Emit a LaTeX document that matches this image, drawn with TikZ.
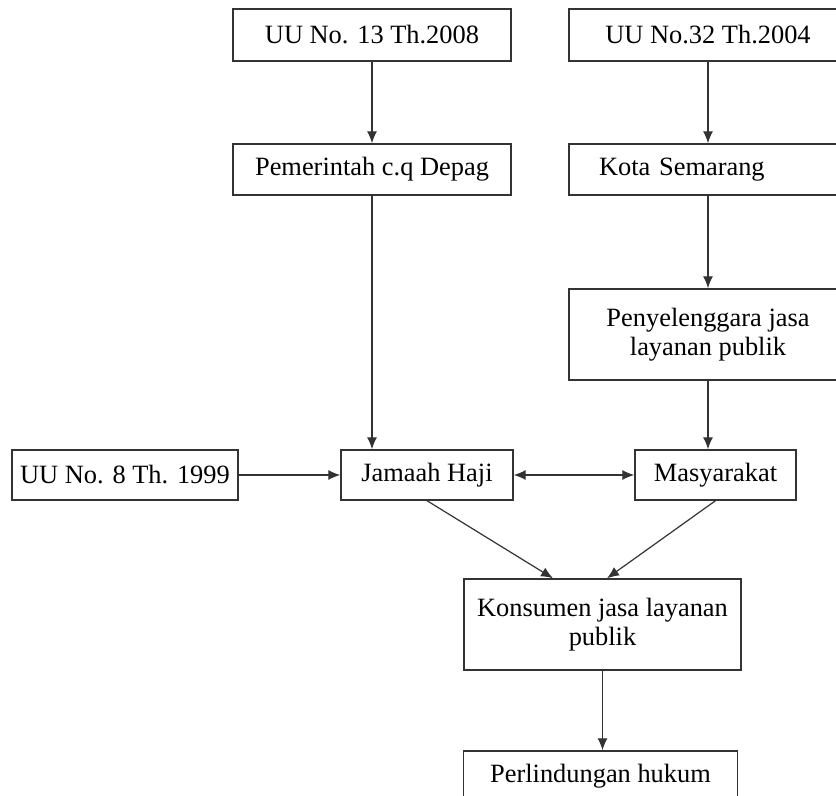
\documentclass[tikz,border=0pt]{standalone}
\usepackage{fontspec}
\setmainfont{Liberation Serif}
\usetikzlibrary{arrows.meta}
\begin{document}
\begin{tikzpicture}[x=0.5pt,y=-0.5pt,
	kotak/.style={draw=black!80,line width=0.7pt,fill=white,inner sep=2pt,align=center,
		font=\fontsize{13.2}{14.8}\selectfont},
	panah/.style={draw=black!80,line width=0.6pt,-{Latex[length=6pt,width=5pt]}},
	panahdua/.style={draw=black!80,line width=0.6pt,{Latex[length=6pt,width=5pt]}-{Latex[length=6pt,width=5pt]}}]
	      \clip (0,0) rectangle (836,796);
	      % Kotak atas
	      \node[kotak,minimum width=139pt,minimum height=26pt] (uuA) at (372,35) {UU No. 13 Th.2008};
	      \node[kotak,minimum width=139pt,minimum height=26pt] (uuB) at (708,35) {UU No.32 Th.2004};
	      \node[kotak,minimum width=139pt,minimum height=25.5pt] (pemerintah) at (372,169.5) {Pemerintah c.q Depag};
	      \node[kotak,minimum height=25.5pt,text width=109pt,inner xsep=15pt,align=left] (kota) at (708,169.5) {Kota Semarang};
	      \node[kotak,minimum width=139pt,minimum height=45.5pt] (penyelenggara) at (708,334.5) {Penyelenggara jasa\\layanan publik};
	      % Baris tengah
	      \node[kotak,minimum width=113pt,minimum height=25pt] (uuC) at (125,475) {UU No. 8 Th. 1999};
	      \node[kotak,minimum width=86pt,minimum height=25pt] (jamaah) at (427,475) {Jamaah Haji};
	      \node[kotak,minimum width=80.5pt,minimum height=25pt] (masyarakat) at (715.5,475) {Masyarakat};
	      % Kotak bawah
	      \node[kotak,minimum width=138.5pt,minimum height=45.5pt] (konsumen) at (602.5,624.5) {Konsumen jasa layanan\\publik};
	      \node[kotak,minimum width=137pt,minimum height=25pt] (perlindungan) at (600.5,776) {Perlindungan hukum};
	      \path
		(konsumen.north) +(-49.5,0) coordinate (kIn1)
		+(4.5,0) coordinate (kIn2)
	      ;
	      % Panah
	      \draw[panah] (uuA) -- (pemerintah);
	      \draw[panah] (uuB) -- (kota);
	      \draw[panah] (kota) -- (penyelenggara);
	      \draw[panah] (pemerintah.south) -- (pemerintah.south |- jamaah.north);
	      \draw[panah] (penyelenggara.south) -- (penyelenggara.south |- masyarakat.north);
	      \draw[panah] (uuC) -- (jamaah);
	      \draw[panahdua] (jamaah) -- (masyarakat);
	      \draw[panah] (jamaah.south) -- (kIn1);
	      \draw[panah] (masyarakat.south) -- (kIn2);
	      \draw[panah] (konsumen.south) -- (konsumen.south |- perlindungan.north);
	    \end{tikzpicture}
\end{document}
